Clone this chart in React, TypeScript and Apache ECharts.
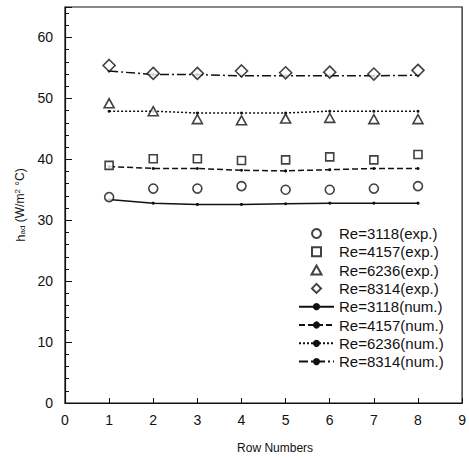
import React, { useEffect, useRef } from "react";
import * as echarts from "echarts";

const rows = [1, 2, 3, 4, 5, 6, 7, 8];
const xTicks = [0, 1, 2, 3, 4, 5, 6, 7, 8, 9];
const yTicks = [0, 10, 20, 30, 40, 50, 60];

const exp3118 = [33.8, 35.2, 35.2, 35.6, 35.0, 35.0, 35.2, 35.6];
const exp4157 = [39.0, 40.1, 40.1, 39.8, 39.9, 40.4, 39.9, 40.8];
const exp6236 = [49.2, 47.9, 46.6, 46.4, 46.7, 46.8, 46.6, 46.6];
const exp8314 = [55.4, 54.1, 54.1, 54.5, 54.2, 54.3, 54.0, 54.6];

const num3118 = [33.4, 32.8, 32.6, 32.6, 32.7, 32.8, 32.8, 32.8];
const num4157 = [38.8, 38.5, 38.5, 38.2, 38.1, 38.3, 38.5, 38.5];
const num6236 = [47.9, 47.9, 47.6, 47.6, 47.6, 47.9, 47.9, 47.9];
const num8314 = [54.5, 53.9, 53.9, 53.7, 53.7, 53.7, 53.7, 53.8];

const pair = (vals: number[]) => rows.map((r, i) => [r, vals[i]]);

const FONT = "'Liberation Sans', Arial, Helvetica, sans-serif";
const INK = "#111";

const SQUARE = "path://M0,0L10,0L10,10L0,10Z";
const TRIANGLE = "path://M5,0L10,9L0,9Z";
const DIAMOND = "path://M5,0L10,5L5,10L0,5Z";

export default function App() {
  const ref = useRef<HTMLDivElement>(null);
  useEffect(() => {
    if (!ref.current) return;
    const chart = echarts.init(ref.current, null, { renderer: "svg" });
    const expSeries = (name: string, symbol: string, size: number, vals: number[]) => ({
      name,
      type: "scatter",
      symbol,
      symbolSize: size,
      symbolKeepAspect: true,
      data: pair(vals),
      itemStyle: { color: "#fff", borderColor: INK, borderWidth: 1.6 },
      z: 3,
    });
    const numSeries = (name: string, dash: any, vals: number[]) => ({
      name,
      type: "line",
      symbol: "circle",
      symbolSize: 3,
      data: pair(vals),
      lineStyle: { color: INK, width: 1.5, type: dash },
      itemStyle: { color: INK },
      z: 2,
    });
    chart.setOption({
      animation: false,
      textStyle: { fontFamily: FONT, color: INK },
      grid: {
        left: 65,
        right: 3,
        top: 7,
        bottom: 57,
        show: true,
        borderColor: INK,
        borderWidth: 1.2,
      },
      xAxis: {
        type: "value",
        min: xTicks[0],
        max: xTicks[xTicks.length - 1],
        interval: 1,
        name: "Row Numbers",
        nameLocation: "middle",
        nameGap: 39,
        nameTextStyle: { fontSize: 12, color: INK, fontFamily: FONT, padding: [0, 0, 0, 23] },
        axisLine: { show: true, lineStyle: { color: INK, width: 1.2 } },
        axisTick: { show: true, inside: true, length: 5, lineStyle: { color: INK } },
        axisLabel: { fontSize: 14, color: INK, margin: 10, fontFamily: FONT },
        splitLine: { show: false },
      },
      yAxis: {
        type: "value",
        min: yTicks[0],
        max: 65,
        interval: 10,
        name: "{h|h}{s|ad} (W/m{p|2} °C)",
        nameLocation: "middle",
        nameRotate: 90,
        nameGap: 36,
        nameTextStyle: {
          fontSize: 12,
          color: INK,
          fontFamily: FONT,
          padding: [0, 0, 0, 0],
          rich: {
            h: { fontSize: 13, fontFamily: FONT, color: INK },
            s: { fontSize: 8, fontFamily: FONT, color: INK, verticalAlign: "bottom", padding: [4, 0, 0, 0] },
            p: { fontSize: 8, fontFamily: FONT, color: INK, verticalAlign: "top", padding: [0, 0, 5, 0] },
          },
        },
        axisLine: { show: true, lineStyle: { color: INK, width: 1.2 } },
        axisTick: { show: true, inside: true, length: 7, lineStyle: { color: INK } },
        minorTick: { show: true, splitNumber: 5, length: 4, lineStyle: { color: INK } },
        axisLabel: {
          fontSize: 14,
          color: INK,
          margin: 12,
          fontFamily: FONT,
          showMaxLabel: false,
          formatter: (v: number) => (yTicks.includes(v) ? String(v) : ""),
        },
        splitLine: { show: false },
        minorSplitLine: { show: false },
      },
      legend: {
        orient: "vertical",
        left: 293,
        top: 221,
        itemWidth: 35,
        itemHeight: 9,
        itemGap: 3.3,
        symbolKeepAspect: true,
        textStyle: { fontSize: 15, color: INK, fontFamily: FONT, lineHeight: 15 },
        data: [
          "Re=3118(exp.)",
          "Re=4157(exp.)",
          "Re=6236(exp.)",
          "Re=8314(exp.)",
          "Re=3118(num.)",
          "Re=4157(num.)",
          "Re=6236(num.)",
          "Re=8314(num.)",
        ],
      },
      series: [
        expSeries("Re=3118(exp.)", "circle", 9, exp3118),
        expSeries("Re=4157(exp.)", SQUARE, 8, exp4157),
        expSeries("Re=6236(exp.)", TRIANGLE, 10, exp6236),
        expSeries("Re=8314(exp.)", DIAMOND, 12, exp8314),
        numSeries("Re=3118(num.)", "solid", num3118),
        numSeries("Re=4157(num.)", [6, 3], num4157),
        numSeries("Re=6236(num.)", [2, 2], num6236),
        numSeries("Re=8314(num.)", [9, 3, 2, 3], num8314),
      ],
    });
    return () => chart.dispose();
  }, []);
  return (
    <div
      ref={ref}
      style={{ position: "absolute", left: 0, top: 0, width: 469, height: 460, background: "#fff" }}
    />
  );
}
